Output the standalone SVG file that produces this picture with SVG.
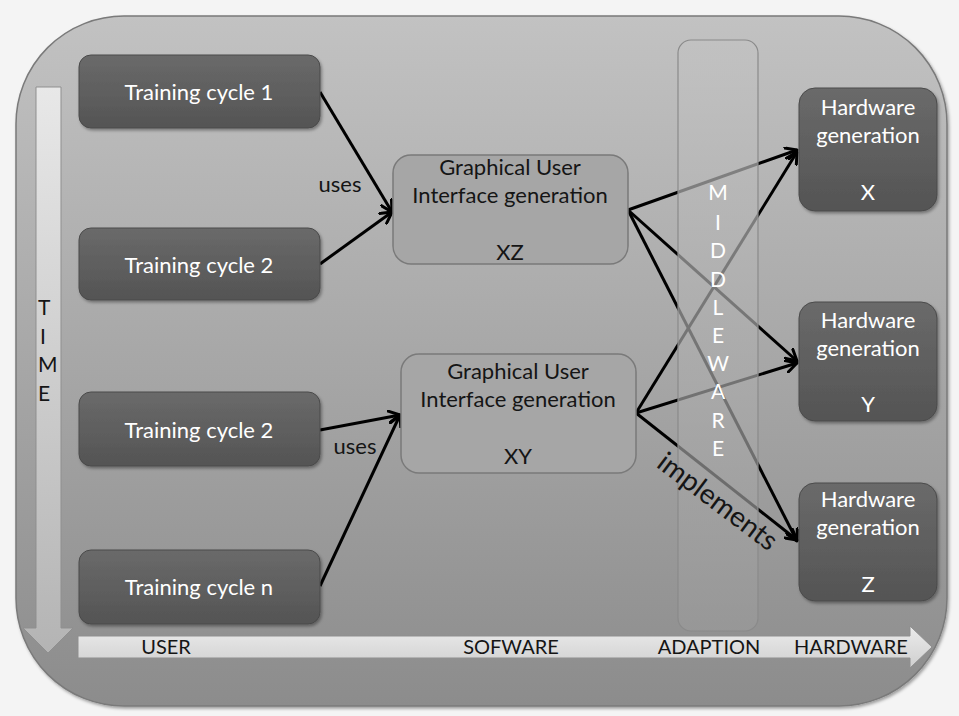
<svg xmlns="http://www.w3.org/2000/svg" width="959" height="716" viewBox="0 0 959 716">
  <style>
    .lbl { font-family: Lato, "Open Sans", "Liberation Sans", sans-serif; }
    .white { fill: #ffffff; font-size: 22px; text-anchor: middle; }
    .dark { fill: #151515; font-size: 22px; text-anchor: middle; }
    .axis { fill: #151515; font-size: 20px; text-anchor: middle; }
    .dbox { fill: url(#darkFill); stroke: #4a4a4a; stroke-width: 1; filter: url(#shadow); }
    .gbox { fill: #a6a6a6; stroke: #7a7a7a; stroke-width: 1.5; }
    .conn { stroke: #000; stroke-width: 3; fill: none; marker-end: url(#head); }
  </style>
  <defs>
    <linearGradient id="panelFill" x1="0" y1="0" x2="0" y2="1">
      <stop offset="0" stop-color="#c2c2c2"/>
      <stop offset="1" stop-color="#8c8c8c"/>
    </linearGradient>
    <linearGradient id="darkFill" x1="0" y1="0" x2="0" y2="1">
      <stop offset="0" stop-color="#6a6a6a"/>
      <stop offset="1" stop-color="#545454"/>
    </linearGradient>
    <linearGradient id="vArrowFill" x1="0" y1="0" x2="0" y2="1">
      <stop offset="0" stop-color="#e8e8e8"/>
      <stop offset="1" stop-color="#b4b4b4"/>
    </linearGradient>
    <linearGradient id="hArrowFill" x1="0" y1="0" x2="0" y2="1">
      <stop offset="0" stop-color="#ececec"/>
      <stop offset="1" stop-color="#cfcfcf"/>
    </linearGradient>
    <linearGradient id="mwFill" x1="0" y1="0" x2="0" y2="1">
      <stop offset="0" stop-color="#c2c2c2" stop-opacity="0.7"/>
      <stop offset="1" stop-color="#9a9a9a" stop-opacity="0.65"/>
    </linearGradient>
    <filter id="shadow" x="-10%" y="-10%" width="130%" height="130%">
      <feDropShadow dx="1.5" dy="2" stdDeviation="1.5" flood-color="#000" flood-opacity="0.35"/>
    </filter>
    <marker id="head" viewBox="0 0 14 14" refX="12" refY="7" markerWidth="14" markerHeight="14" markerUnits="userSpaceOnUse" orient="auto">
      <path d="M1,1 L12,7 L1,13" fill="none" stroke="#000" stroke-width="3" stroke-linecap="round" stroke-linejoin="round"/>
    </marker>
  </defs>

  <!-- page background and rounded panel -->
  <rect x="0" y="0" width="959" height="716" fill="#f4f4f4"/>
  <rect x="16" y="16" width="931" height="690" rx="108" ry="108" fill="url(#panelFill)" stroke="#7a7a7a" stroke-width="1.5" filter="url(#shadow)"/>

  <!-- time axis -->
  <g id="time-axis">
    <polygon points="36,87 61,87 61,628 73,628 48,653 23,628 36,628" fill="url(#vArrowFill)" stroke="#8f8f8f" stroke-width="1"/>
    <g class="lbl" font-size="21" fill="#151515">
      <text x="38" y="315">T</text>
      <text x="40" y="344">I</text>
      <text x="38" y="372">M</text>
      <text x="38" y="401">E</text>
    </g>
  </g>

  <!-- layer axis -->
  <g id="layer-axis">
    <polygon points="78,636 910,636 910,626 932,647 910,668 910,658 78,658" fill="url(#hArrowFill)" stroke="#8f8f8f" stroke-width="1"/>
    <text class="lbl axis" x="166" y="654">USER</text>
    <text class="lbl axis" x="511" y="654">SOFWARE</text>
    <text class="lbl axis" x="709" y="654">ADAPTION</text>
    <text class="lbl axis" x="851" y="654">HARDWARE</text>
  </g>

  <!-- connectors -->
  <g id="connectors">
    <line class="conn" x1="320" y1="92" x2="392" y2="212"/>
    <line class="conn" x1="320" y1="264" x2="392" y2="212"/>
    <line class="conn" x1="320" y1="430" x2="400" y2="415"/>
    <line class="conn" x1="320" y1="586" x2="400" y2="415"/>
    <line class="conn" x1="628" y1="210" x2="797" y2="150"/>
    <line class="conn" x1="628" y1="210" x2="797" y2="361"/>
    <line class="conn" x1="628" y1="210" x2="797" y2="541"/>
    <line class="conn" x1="636" y1="413" x2="797" y2="152"/>
    <line class="conn" x1="636" y1="413" x2="797" y2="363"/>
    <line class="conn" x1="636" y1="413" x2="797" y2="540"/>
  </g>

  <!-- middleware band, drawn over the connectors -->
  <g id="middleware">
    <rect x="678" y="40" width="80" height="591" rx="13" ry="13" fill="url(#mwFill)" stroke="#8a8a8a" stroke-width="1.2"/>
    <g class="lbl" font-size="21" fill="#ffffff" text-anchor="middle">
      <text x="718" y="200">M</text>
      <text x="718" y="230">I</text>
      <text x="718" y="258">D</text>
      <text x="718" y="287">D</text>
      <text x="718" y="315">L</text>
      <text x="718" y="343">E</text>
      <text x="718" y="371">W</text>
      <text x="718" y="399">A</text>
      <text x="718" y="428">R</text>
      <text x="718" y="456">E</text>
    </g>
  </g>

  <!-- user layer -->
  <g id="training-cycle-1">
    <rect class="dbox" x="79" y="55" width="241" height="73" rx="12" ry="12"/>
    <text class="lbl white" x="199" y="100">Training cycle 1</text>
  </g>
  <g id="training-cycle-2a">
    <rect class="dbox" x="79" y="228" width="241" height="72" rx="12" ry="12"/>
    <text class="lbl white" x="199" y="273">Training cycle 2</text>
  </g>
  <g id="training-cycle-2b">
    <rect class="dbox" x="79" y="392" width="241" height="74" rx="12" ry="12"/>
    <text class="lbl white" x="199" y="438">Training cycle 2</text>
  </g>
  <g id="training-cycle-n">
    <rect class="dbox" x="79" y="550" width="241" height="74" rx="12" ry="12"/>
    <text class="lbl white" x="199" y="595">Training cycle n</text>
  </g>

  <!-- connector labels -->
  <g id="labels">
    <text class="lbl dark" x="340" y="192">uses</text>
    <text class="lbl dark" x="355" y="454">uses</text>
    <text class="lbl" x="0" y="0" font-size="28" fill="#151515" text-anchor="middle" transform="translate(712,509) rotate(37)">implements</text>
  </g>

  <!-- software layer -->
  <g id="gui-xz">
    <rect class="gbox" x="393" y="155" width="235" height="109" rx="18" ry="18"/>
    <text class="lbl dark" x="510" y="175">Graphical User</text>
    <text class="lbl dark" x="510" y="203">Interface generation</text>
    <text class="lbl dark" x="510" y="260">XZ</text>
  </g>
  <g id="gui-xy">
    <rect class="gbox" x="401" y="354" width="235" height="119" rx="18" ry="18"/>
    <text class="lbl dark" x="518" y="379">Graphical User</text>
    <text class="lbl dark" x="518" y="407">Interface generation</text>
    <text class="lbl dark" x="518" y="464">XY</text>
  </g>

  <!-- hardware layer -->
  <g id="hardware-x">
    <rect class="dbox" x="799" y="88" width="138" height="123" rx="16" ry="16"/>
    <text class="lbl white" x="868" y="115">Hardware</text>
    <text class="lbl white" x="868" y="143">generation</text>
    <text class="lbl white" x="868" y="200">X</text>
  </g>
  <g id="hardware-y">
    <rect class="dbox" x="799" y="302" width="138" height="119" rx="16" ry="16"/>
    <text class="lbl white" x="868" y="328">Hardware</text>
    <text class="lbl white" x="868" y="356">generation</text>
    <text class="lbl white" x="868" y="412">Y</text>
  </g>
  <g id="hardware-z">
    <rect class="dbox" x="799" y="483" width="138" height="118" rx="16" ry="16"/>
    <text class="lbl white" x="868" y="507">Hardware</text>
    <text class="lbl white" x="868" y="535">generation</text>
    <text class="lbl white" x="868" y="592">Z</text>
  </g>
</svg>
